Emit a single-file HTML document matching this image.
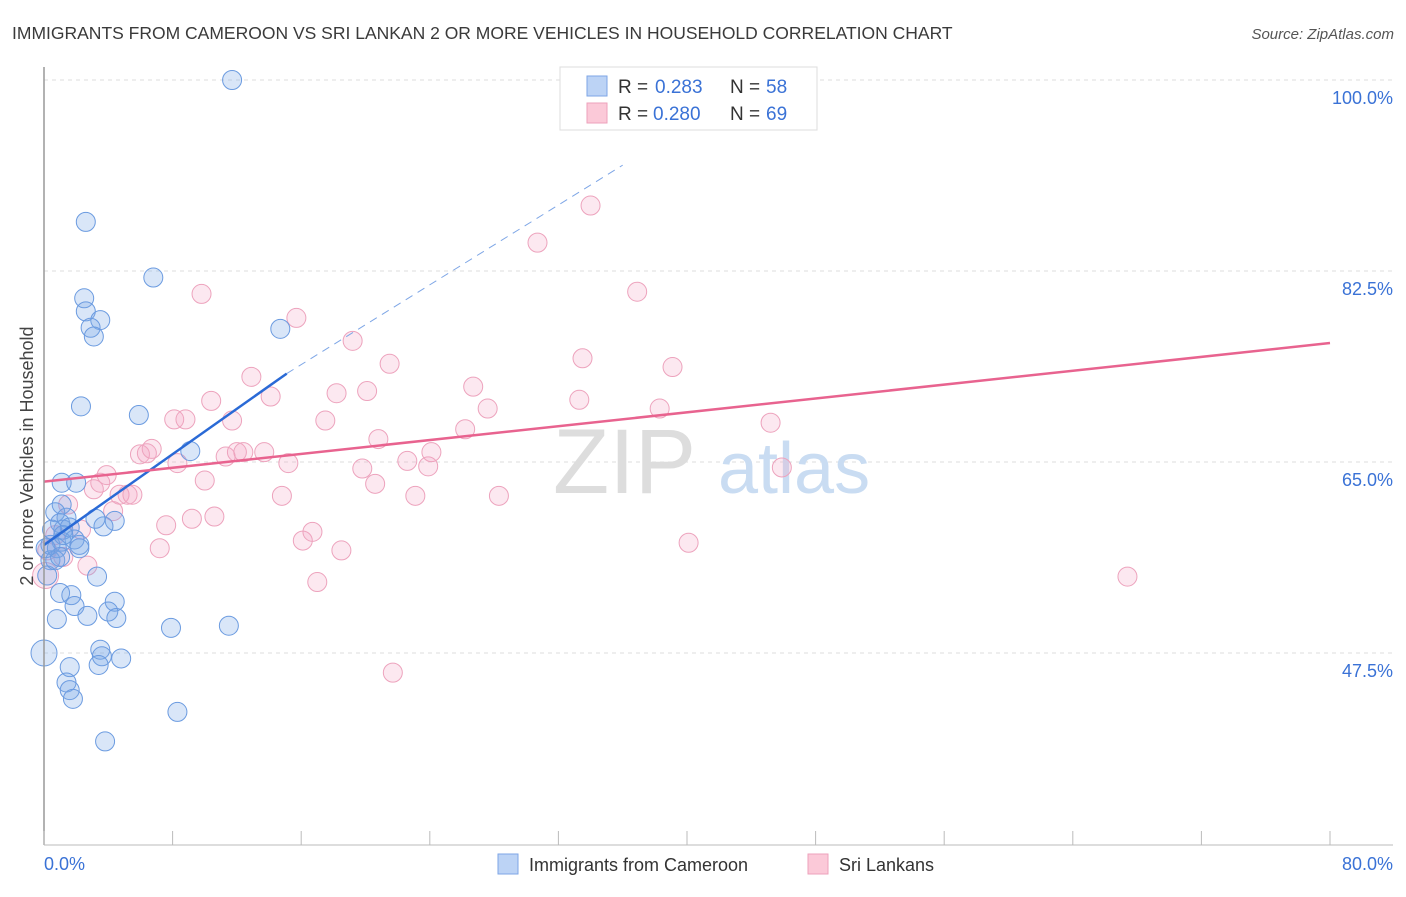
<!DOCTYPE html>
<html><head><meta charset="utf-8"><style>
body{margin:0;background:#fff;font-family:"Liberation Sans",sans-serif;}
svg text{font-family:"Liberation Sans",sans-serif;}
</style></head><body>
<svg width="1406" height="892" viewBox="0 0 1406 892">
<text x="12" y="39" font-size="17.5" fill="#3a3a3a">IMMIGRANTS FROM CAMEROON VS SRI LANKAN 2 OR MORE VEHICLES IN HOUSEHOLD CORRELATION CHART</text>
<text x="1394" y="39" font-size="15" fill="#555" font-style="italic" text-anchor="end">Source: ZipAtlas.com</text>
<g id="grid"></g>
<g><text x="553" y="493" font-size="92" font-family="Liberation Serif" fill="#ddd">ZIP</text><text x="718" y="493" font-size="72" fill="#c9dcf2">atlas</text></g>
<g id="pts"></g>
<g id="trends"></g>
<line x1="44" y1="67" x2="44" y2="845" stroke="#999" stroke-width="1.5"/>
<line x1="44" y1="845" x2="1393" y2="845" stroke="#bbb"/>
<g id="xt"></g>
<text x="44" y="870" font-size="18" fill="#3a72d6">0.0%</text>
<text x="1393" y="870" font-size="18" fill="#3a72d6" text-anchor="end">80.0%</text>
<text transform="translate(33,456) rotate(-90)" font-size="18" fill="#444" text-anchor="middle">2 or more Vehicles in Household</text>
<g>
<rect x="560" y="67" width="257" height="63" fill="#fff" stroke="#ddd"/>
<rect x="587" y="76" width="20" height="20" fill="#bcd3f5" stroke="#7ea6e6"/>
<rect x="587" y="103" width="20" height="20" fill="#fbc9d8" stroke="#eea1bb"/>
<text x="618" y="93" font-size="19" fill="#333">R =</text><text x="655" y="93" font-size="19" fill="#3a72d6">0.283</text>
<text x="730" y="93" font-size="19" fill="#333">N =</text><text x="766" y="93" font-size="19" fill="#3a72d6">58</text>
<text x="618" y="120" font-size="19" fill="#333">R =</text><text x="653" y="120" font-size="19" fill="#3a72d6">0.280</text>
<text x="730" y="120" font-size="19" fill="#333">N =</text><text x="766" y="120" font-size="19" fill="#3a72d6">69</text>
</g>
<g>
<rect x="498" y="854" width="20" height="20" fill="#bcd3f5" stroke="#7ea6e6"/>
<text x="529" y="871" font-size="18" fill="#333">Immigrants from Cameroon</text>
<rect x="808" y="854" width="20" height="20" fill="#fbc9d8" stroke="#eea1bb"/>
<text x="839" y="871" font-size="18" fill="#333">Sri Lankans</text>
</g>
</svg>
<script>
const yTicks=[100,82.5,65,47.5];
const yTickLabels=["100.0%","82.5%","65.0%","47.5%"];
const xTicks=[0,8,16,24,32,40,48,56,64,72,80];
const blueX=[11.7,2.6,6.8,2.5,2.6,3.5,2.9,3.1,14.7,2.3,5.9,9.1,1.1,2.0,1.1,0.7,1.4,1.0,1.2,1.6,4.4,3.7,1.9,1.1,0.4,0.8,2.2,2.2,0.4,0.2,3.3,1.0,1.7,4.4,1.9,4.0,2.7,4.5,0.8,7.9,11.5,0.0,3.5,3.6,4.8,3.4,1.6,1.4,1.6,1.8,8.3,3.8,0.7,0.5,1.0,1.2,3.2,0.1];
const blueY=[100,87.0,81.9,80.0,78.8,78.0,77.3,76.5,77.2,70.1,69.3,66.0,63.1,63.1,61.1,60.4,59.9,59.4,58.8,59.0,59.6,59.1,57.9,57.7,57.4,57.1,57.4,57.1,56.0,54.6,54.5,53.0,52.8,52.2,51.8,51.3,50.9,50.7,50.6,49.8,50.0,47.5,47.8,47.2,47.0,46.4,46.2,44.8,44.1,43.3,42.1,39.4,56.0,58.8,56.3,58.3,59.8,57.1];
const pinkX=[0.1,0.2,0.7,1.2,1.5,2.3,2.7,3.1,3.5,3.9,4.3,4.7,5.2,5.5,5.97,6.4,6.7,7.2,7.6,8.1,8.3,8.8,9.2,9.8,10.0,10.4,10.6,11.3,11.7,12.0,12.4,12.9,13.7,14.1,14.8,15.2,15.7,16.1,16.7,17.0,17.5,18.2,18.5,19.2,19.8,20.1,20.6,20.8,21.5,21.7,22.6,23.1,23.9,24.1,26.2,26.7,27.6,28.3,30.7,33.3,33.5,34.0,36.9,38.3,39.1,40.1,45.2,45.9,67.4];
const pinkY=[54.6,56.9,58.3,56.3,61.1,58.8,55.5,62.5,63.1,63.8,60.5,62.0,62.0,62.0,65.7,65.8,66.2,57.1,59.2,68.9,64.9,68.9,59.8,80.4,63.3,70.6,60.0,65.5,68.8,65.9,65.9,72.8,65.9,71.0,61.9,64.9,78.2,57.8,58.6,54.0,68.8,71.3,56.9,76.1,64.4,71.5,63.0,67.1,74.0,45.7,65.1,61.9,64.6,65.9,68.0,71.9,69.9,61.9,85.1,70.7,74.5,88.5,80.6,69.9,73.7,57.6,68.6,64.5,54.5];
const blueTrend=[[0,57.4],[15.1,73.1]];
const blueDash=[[15.1,73.1],[36,92.2]];
const pinkTrend=[[0,63.2],[80,75.9]];
const X=v=>44+v/80*1286, Y=v=>80+(100-v)*10.914;
const ns="http://www.w3.org/2000/svg";
function mk(t,a,p){const e=document.createElementNS(ns,t);for(const k in a)e.setAttribute(k,a[k]);p.appendChild(e);return e;}
const grid=document.getElementById('grid');
yTicks.forEach((v,i)=>{
 const l=mk('line',{x1:44,x2:1393,y1:Y(v),y2:Y(v),stroke:'#ddd','stroke-dasharray':'4,4'},grid);
 
 
 const t=mk('text',{x:1393,y:Y(v)+24,'font-size':18,fill:'#3a72d6','text-anchor':'end'},grid);
 t.textContent=yTickLabels[i];
 
 
});
const xt=document.getElementById('xt');
xTicks.forEach(v=>{const l=mk('line',{x1:X(v),x2:X(v),y1:831,y2:845,stroke:'#bbb'},xt);
 
 });
const pts=document.getElementById('pts');
pinkX.forEach((v,i)=>{const c=mk('circle',{cx:X(v),cy:Y(pinkY[i]),r:i==0?13:9.5,fill:'rgba(244,165,195,0.25)',stroke:'#eda3bd','stroke-width':1},pts);
 
 });
blueX.forEach((v,i)=>{const c=mk('circle',{cx:X(v),cy:Y(blueY[i]),r:v==0?13:9.5,fill:'rgba(120,165,230,0.28)',stroke:'#6b9be0','stroke-width':1},pts);
 
 });
const tr=document.getElementById('trends');
let l1=mk('line',{x1:X(blueTrend[0][0]),y1:Y(blueTrend[0][1]),x2:X(blueTrend[1][0]),y2:Y(blueTrend[1][1]),stroke:'#2a6ad6','stroke-width':2.5},tr);


let l2=mk('line',{x1:X(blueDash[0][0]),y1:Y(blueDash[0][1]),x2:X(blueDash[1][0]),y2:Y(blueDash[1][1]),stroke:'#7ea6e6','stroke-width':1,'stroke-dasharray':'8,6'},tr);


let l3=mk('line',{x1:X(pinkTrend[0][0]),y1:Y(pinkTrend[0][1]),x2:X(pinkTrend[1][0]),y2:Y(pinkTrend[1][1]),stroke:'#e8638f','stroke-width':2.5},tr);


</script>
</body></html>
